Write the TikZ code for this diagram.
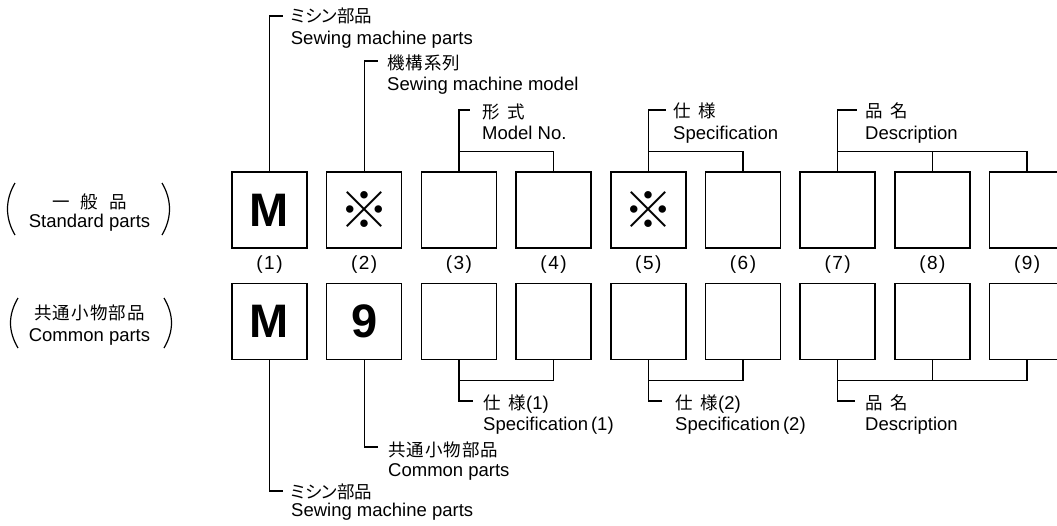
\documentclass[tikz,border=0pt]{standalone}
\usepackage{fontspec}
\setmainfont{Liberation Sans}
\newfontfamily\jp[LetterSpace=6]{Noto Sans CJK JP}
\newfontfamily\jpk[RawFeature=+palt]{Noto Sans CJK JP}
\begin{document}
\begin{tikzpicture}[x=1pt,y=-1pt,
  box/.style={draw, line width=1.5pt, minimum width=75pt, minimum height=76pt, inner sep=0pt},
  br/.style={line width=1.4pt},
  par/.style={line width=1.2pt},
  en/.style={anchor=base west, inner sep=0pt, font=\fontsize{18.5}{22}\selectfont},
  ja/.style={anchor=base west, inner sep=0pt, font=\jp\fontsize{17.5}{22}\selectfont},
  jak/.style={anchor=base west, inner sep=0pt, font=\jpk\fontsize{17.5}{22}\selectfont},
  enc/.style={anchor=base, inner sep=0pt, font=\fontsize{18.5}{22}\selectfont},
  jac/.style={anchor=base, inner sep=0pt, font=\jp\fontsize{17.5}{22}\selectfont},
  num/.style={inner sep=0pt, font=\fontsize{19}{22}\selectfont},
  big/.style={inner sep=0pt, font=\fontsize{47}{50}\selectfont\bfseries},
  refmark/.style={inner sep=0pt, font=\jp\fontsize{50}{52}\selectfont}]
\useasboundingbox (0,0) rectangle (1057,525);
\clip (0,0) rectangle (1057,525);
\fill[white] (0,0) rectangle (1057,525);

% boxes
\foreach \i in {1,...,9}{
  \pgfmathsetmacro\cx{269.5+94.7*(\i-1)}
  \node[box] (a\i) at (\cx,210) {};
  \node[box] (b\i) at (\cx,321.5) {};
  \node[num] (n\i) at (\cx,265) {(\hspace{1.5pt}\i\hspace{1.5pt})};
}
\node[big] (m1) at (a1) {M};
\node[refmark] (k2) at (a2) {※};
\node[refmark] (k5) at (a5) {※};
\node[big] (m2) at (b1) {M};
\node[big] (m9) at (b2) {9};

% left labels
\node[jac] (sj) at (89.5,208.5) {一\hspace{11pt}般\hspace{11pt}品};
\node[enc] (se) at (89.5,227) {Standard parts};
\node[jac] (cj) at (89.5,319.5) {共通小物部品};
\node[enc] (ce) at (89.5,341.7) {Common parts};
\draw[par] (15,183) .. controls (5,200) and (5,218) .. (15,235);
\draw[par] (162,183) .. controls (172,200) and (172,218) .. (162,235);
\draw[par] (18,298) .. controls (8,315) and (8,331) .. (18,348);
\draw[par] (164,298) .. controls (174,315) and (174,331) .. (164,348);

% top brackets
\coordinate (t1) at (283,16);
\draw[br] (a1.north) |- (t1);
\node[jak] (t1j) at (290.7,22.5) {ミシン部品};
\node[en] (t1e) at (290.7,44.3) {Sewing machine parts};

\coordinate (t2) at (378,61);
\draw[br] (a2.north) |- (t2);
\node[ja] (t2j) at (387,69) {機構系列};
\node[en] (t2e) at (387,90.7) {Sewing machine model};

\coordinate (t3) at (470,110);
\draw[br] (a3.north) |- (t3);
\draw[br] (a3.north) ++(0,-20) -| (a4.north);
\node[ja] (t3j) at (482,118) {形\hspace{8pt}式};
\node[en] (t3e) at (482,139.3) {Model No.};

\coordinate (t4) at (666,110);
\draw[br] (a5.north) |- (t4);
\draw[br] (a5.north) ++(0,-20) -| (a6.north);
\node[ja] (t4j) at (673,117.5) {仕\hspace{8pt}様};
\node[en] (t4e) at (673,139) {Specification};

\coordinate (t5) at (857,110);
\draw[br] (a7.north) |- (t5);
\draw[br] (a7.north) ++(0,-20) -| (a9.north);
\draw[br] (a8.north) -- ++(0,-20);
\node[ja] (t5j) at (865,117.5) {品\hspace{8pt}名};
\node[en] (t5e) at (865,139) {Description};

% bottom brackets
\coordinate (u1) at (283,491);
\draw[br] (b1.south) |- (u1);
\node[jak] (u1j) at (291,498) {ミシン部品};
\node[en] (u1e) at (291,516.5) {Sewing machine parts};

\coordinate (u2) at (378,447);
\draw[br] (b2.south) |- (u2);
\node[ja] (u2j) at (388,456.5) {共通小物部品};
\node[en] (u2e) at (388,476) {Common parts};

\coordinate (u3) at (473,401);
\draw[br] (b3.south) |- (u3);
\draw[br] (b3.south) ++(0,20) -| (b4.south);
\node[ja] (u3j) at (483,409) {仕\hspace{8pt}様\fontspec{Liberation Sans}\fontsize{18.5}{22}\selectfont(1)};
\node[en] (u3e) at (483,430) {Specification\hspace{3pt}(1)};

\coordinate (u4) at (662,401);
\draw[br] (b5.south) |- (u4);
\draw[br] (b5.south) ++(0,20) -| (b6.south);
\node[ja] (u4j) at (675,409) {仕\hspace{8pt}様\fontspec{Liberation Sans}\fontsize{18.5}{22}\selectfont(2)};
\node[en] (u4e) at (675,430) {Specification\hspace{3pt}(2)};

\coordinate (u5) at (855,401);
\draw[br] (b7.south) |- (u5);
\draw[br] (b7.south) ++(0,20) -| (b9.south);
\draw[br] (b8.south) -- ++(0,20);
\node[ja] (u5j) at (865,409) {品\hspace{8pt}名};
\node[en] (u5e) at (865,430) {Description};
\end{tikzpicture}
\end{document}
